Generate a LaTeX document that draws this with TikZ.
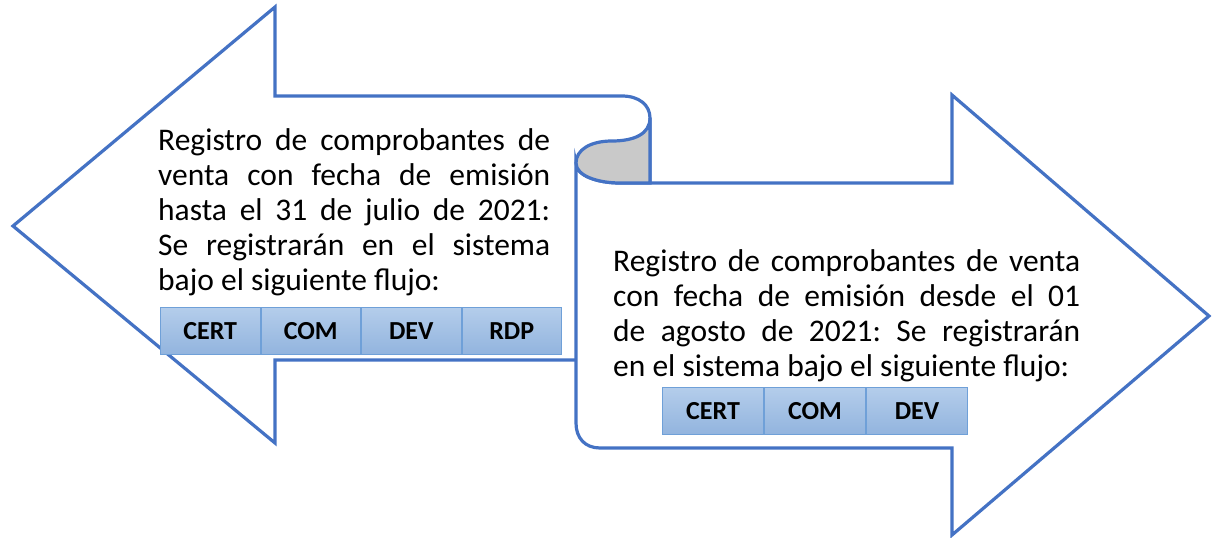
\documentclass[tikz,border=0pt]{standalone}
\usepackage{fontspec}
\setmainfont{Carlito}
\usetikzlibrary{positioning}

\definecolor{flecha}{HTML}{4472C4}
\definecolor{pliegue}{HTML}{C9C9C9}
\definecolor{celdaarriba}{HTML}{B4CDEB}
\definecolor{celdaabajo}{HTML}{92B4DE}
\definecolor{celdaborde}{HTML}{6FA0D8}

\tikzset{
    contorno/.style={draw=flecha, line width=3.2pt, line join=miter, fill=white},
    parrafo/.style={anchor=base west, inner sep=0pt, align=justify, font=\fontsize{31.5}{35}\selectfont},
    celda/.style={draw=celdaborde, line width=1pt, top color=celdaarriba, bottom color=celdaabajo,
        minimum width=99.5pt, minimum height=47pt, inner sep=0pt, font=\fontsize{26}{30}\selectfont\bfseries},
}

\begin{document}
\begin{tikzpicture}[x=1pt,y=-1pt]
                    \useasboundingbox (0,0) rectangle (1213,538);
                    \hyphenpenalty=10000
                    \frenchspacing

                    % flecha izquierda
                    \draw[contorno] (576,360) -- (275,360) -- (275,443) -- (13,226) -- (275,7) -- (275,96) -- (622,96)
                        .. controls (639,96) and (650,105) .. (650,118) -- (650,183);

                    % flecha derecha
                    \draw[contorno] (576,163) .. controls (576,176) and (598,183) .. (620,183) -- (952,183) -- (952,95)
                        -- (1209,316) -- (952,535) -- (952,448) -- (600,448) .. controls (585,448) and (576,438) .. (576,423) -- cycle;

                    % pliegue
                    \draw[contorno, fill=pliegue] (650,118) .. controls (650,134) and (634,141) .. (612,141)
                        .. controls (590,141) and (576,150) .. (576,163) .. controls (576,176) and (598,183) .. (620,183)
                        -- (650,183) -- cycle;

                    \node[parrafo, text width=392pt] (texto1) at (158,150) {Registro de comprobantes de\linebreak
                        venta con fecha de emisión\linebreak hasta el 31 de julio de 2021:\linebreak
                        Se registrarán en el sistema\linebreak bajo el siguiente flujo:};

                    \node[celda, anchor=north west] (cert1) at (160,307) {CERT};
                    \node[celda, right=0pt of cert1] (com1) {COM};
                    \node[celda, right=0pt of com1] (dev1) {DEV};
                    \node[celda, right=0pt of dev1] (rdp1) {RDP};

                    \node[parrafo, text width=467pt] (texto2) at (613,271) {Registro de comprobantes de venta\linebreak
                        con fecha de emisión desde el 01\linebreak de agosto de 2021: Se registrarán\linebreak
                        en el sistema bajo el siguiente flujo:};

                    \node[celda, minimum width=101pt, anchor=north west] (cert2) at (662,387) {CERT};
                    \node[celda, minimum width=101pt, right=0pt of cert2] (com2) {COM};
                    \node[celda, minimum width=101pt, right=0pt of com2] (dev2) {DEV};
                \end{tikzpicture}
\end{document}
